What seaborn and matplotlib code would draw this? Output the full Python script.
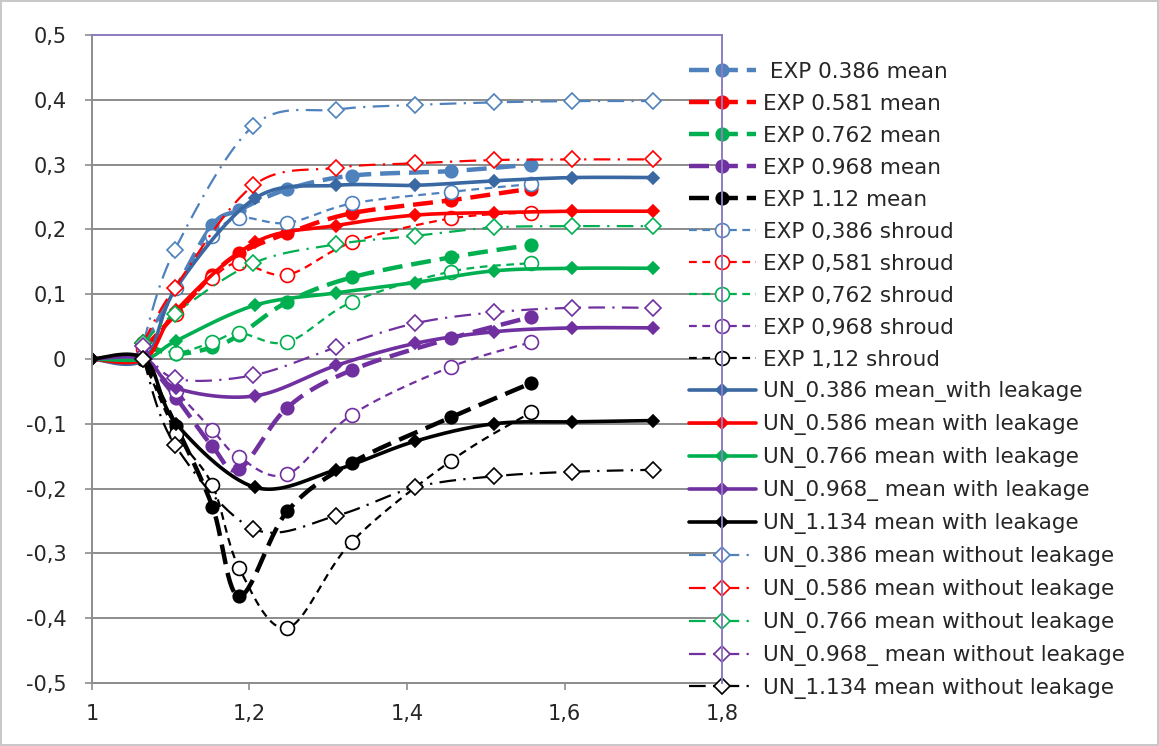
import numpy as np
import matplotlib
matplotlib.use("Agg")
import matplotlib.pyplot as plt
from matplotlib.lines import Line2D
import seaborn as sns

# ---- data -------------------------------------------------------------
x_exp = [1.065, 1.107, 1.153, 1.187, 1.248, 1.33, 1.456, 1.558]
x_un_with = [1.0, 1.067, 1.107, 1.207, 1.31, 1.41, 1.51, 1.61, 1.713]
x_un_without = [1.065, 1.105, 1.205, 1.31, 1.41, 1.51, 1.61, 1.713]

exp_0386_mean = [0.02, 0.11, 0.207, 0.23, 0.262, 0.283, 0.29, 0.30]
exp_0581_mean = [0.015, 0.07, 0.13, 0.163, 0.194, 0.225, 0.245, 0.263]
exp_0762_mean = [0.02, 0.008, 0.018, 0.037, 0.088, 0.126, 0.157, 0.176]
exp_0968_mean = [0.005, -0.06, -0.135, -0.17, -0.075, -0.017, 0.032, 0.065]
exp_112_mean = [0.0, -0.104, -0.228, -0.366, -0.235, -0.16, -0.09, -0.037]

exp_0386_shroud = [0.02, 0.11, 0.19, 0.218, 0.21, 0.24, 0.258, 0.27]
exp_0581_shroud = [0.015, 0.07, 0.125, 0.148, 0.13, 0.18, 0.217, 0.226]
exp_0762_shroud = [0.025, 0.01, 0.026, 0.04, 0.026, 0.088, 0.135, 0.148]
exp_0968_shroud = [0.005, -0.05, -0.11, -0.152, -0.178, -0.086, -0.012, 0.026]
exp_112_shroud = [0.0, -0.115, -0.195, -0.323, -0.415, -0.282, -0.157, -0.082]

un_0386_with = [0.0, 0.0, 0.11, 0.248, 0.268, 0.268, 0.275, 0.28, 0.28]
un_0586_with = [0.0, 0.0, 0.075, 0.18, 0.206, 0.222, 0.226, 0.228, 0.228]
un_0766_with = [0.0, 0.0, 0.028, 0.083, 0.102, 0.118, 0.136, 0.14, 0.14]
un_0968_with = [0.0, 0.0, -0.045, -0.057, -0.01, 0.024, 0.042, 0.048, 0.048]
un_1134_with = [0.0, 0.0, -0.1, -0.198, -0.171, -0.127, -0.1, -0.097, -0.095]

un_0386_without = [0.025, 0.168, 0.36, 0.385, 0.392, 0.396, 0.398, 0.398]
un_0586_without = [0.025, 0.11, 0.268, 0.295, 0.302, 0.307, 0.308, 0.308]
un_0766_without = [0.025, 0.07, 0.148, 0.177, 0.19, 0.203, 0.205, 0.205]
un_0968_without = [0.02, -0.03, -0.025, 0.018, 0.055, 0.072, 0.079, 0.079]
un_1134_without = [0.0, -0.132, -0.262, -0.242, -0.198, -0.181, -0.174, -0.171]

labels = [
    " EXP 0.386 mean", "EXP 0.581 mean", "EXP 0.762 mean", "EXP 0.968 mean", "EXP 1.12 mean",
    "EXP 0,386 shroud", "EXP 0,581 shroud", "EXP 0,762 shroud", "EXP 0,968 shroud", "EXP 1,12 shroud",
    "UN_0.386 mean_with leakage", "UN_0.586 mean with leakage", "UN_0.766 mean with leakage",
    "UN_0.968_ mean with leakage", "UN_1.134 mean with leakage",
    "UN_0.386 mean without leakage", "UN_0.586 mean without leakage", "UN_0.766 mean without leakage",
    "UN_0.968_ mean without leakage", "UN_1.134 mean without leakage",
]

x_ticks = [1.0, 1.2, 1.4, 1.6, 1.8]
x_tick_labels = ["1", "1,2", "1,4", "1,6", "1,8"]
y_ticks = [-0.5, -0.4, -0.3, -0.2, -0.1, 0.0, 0.1, 0.2, 0.3, 0.4, 0.5]
y_tick_labels = ["-0,5", "-0,4", "-0,3", "-0,2", "-0,1", "0", "0,1", "0,2", "0,3", "0,4", "0,5"]

# ---- styles -------------------------------------------------------------
BLUE_L = "#4f81bd"
BLUE_D = "#3a68a3"
RED = "#ff0000"
GREEN = "#00b050"
PURPLE = "#7030a0"
BLACK = "#000000"

exp_colors = [BLUE_L, RED, GREEN, PURPLE, BLACK]
un_with_colors = [BLUE_D, RED, GREEN, PURPLE, BLACK]
un_without_colors = [BLUE_L, RED, GREEN, PURPLE, BLACK]

STYLE_EXP_MEAN = dict(lw=3.2, ls=(0, (4.5, 2.0)), marker="o", ms=9, open=False)
STYLE_EXP_SHROUD = dict(lw=1.6, ls=(0, (3.5, 2.5)), marker="o", ms=10, open=True)
STYLE_UN_WITH = dict(lw=2.6, ls="-", marker="D", ms=6, open=False)
STYLE_UN_WITHOUT = dict(lw=1.6, ls=(0, (7.5, 3.3, 1.0, 3.3)), marker="D", ms=8.5, open=True)

series = []
for ys, c in zip([exp_0386_mean, exp_0581_mean, exp_0762_mean, exp_0968_mean, exp_112_mean], exp_colors):
    series.append((x_exp, ys, c, STYLE_EXP_MEAN))
for ys, c in zip([exp_0386_shroud, exp_0581_shroud, exp_0762_shroud, exp_0968_shroud, exp_112_shroud], exp_colors):
    series.append((x_exp, ys, c, STYLE_EXP_SHROUD))
for ys, c in zip([un_0386_with, un_0586_with, un_0766_with, un_0968_with, un_1134_with], un_with_colors):
    series.append((x_un_with, ys, c, STYLE_UN_WITH))
for ys, c in zip([un_0386_without, un_0586_without, un_0766_without, un_0968_without, un_1134_without],
                 un_without_colors):
    series.append((x_un_without, ys, c, STYLE_UN_WITHOUT))


def smooth_curve(xs, ys, n=30):
    """Cubic Bezier smoothing through every point (spreadsheet-style smoothed line)."""
    P = np.column_stack([xs, ys]).astype(float)
    out = []
    last = len(P) - 2
    for i in range(len(P) - 1):
        p0 = P[i - 1] if i > 0 else P[i]
        p1, p2 = P[i], P[i + 1]
        p3 = P[i + 2] if i + 2 < len(P) else P[i + 1]
        c1 = p1 + (p2 - p0) / 6.0
        c2 = p2 - (p3 - p1) / 6.0
        t = np.linspace(0, 1, n, endpoint=(i == last))[:, None]
        out.append((1 - t) ** 3 * p1 + 3 * (1 - t) ** 2 * t * c1 + 3 * (1 - t) * t ** 2 * c2 + t ** 3 * p2)
    return np.vstack(out)


# ---- figure -------------------------------------------------------------
sns.set_theme(style="white")
plt.rcParams["font.family"] = ["DejaVu Sans"]

W, H = 1159, 746
fig = plt.figure(figsize=(W / 100, H / 100), dpi=100)
fig.patch.set_facecolor("white")
fig.patch.set_edgecolor("#c8c8c8")
fig.patch.set_linewidth(1.5)

ax_l, ax_r, ax_t, ax_b = 92, 722, 35, 683
ax = fig.add_axes([ax_l / W, 1 - ax_b / H, (ax_r - ax_l) / W, (ax_b - ax_t) / H])

for xs, ys, c, st in series:
    curve = smooth_curve(xs, ys)
    sns.lineplot(x=curve[:, 0], y=curve[:, 1], ax=ax, color=c, linewidth=st["lw"],
                 sort=False, estimator=None, legend=False)
    ax.lines[-1].set_linestyle(st["ls"])
    ax.lines[-1].set_solid_capstyle("butt")
    ax.lines[-1].set_dash_capstyle("butt")
    ax.plot(xs, ys, linestyle="none", marker=st["marker"], ms=st["ms"],
            mfc=("white" if st["open"] else c), mec=c, mew=1.2)

ax.set_xlim(1.0, 1.8)
ax.set_ylim(-0.5, 0.5)
ax.set_xticks(x_ticks)
ax.set_xticklabels(x_tick_labels)
ax.set_yticks(y_ticks)
ax.set_yticklabels(y_tick_labels)

ax.grid(axis="y", color="#8c8c8c", linewidth=1.4)
ax.grid(axis="x", visible=False)
ax.set_axisbelow(True)

for side in ["left", "bottom"]:
    ax.spines[side].set_color("#8c8c8c")
    ax.spines[side].set_linewidth(1.4)
for side in ["top", "right"]:
    ax.spines[side].set_color("#8e7cc3")
    ax.spines[side].set_linewidth(1.4)
ax.spines["right"].set_zorder(10)

ax.tick_params(axis="both", which="major", direction="out", length=5, width=1.2,
               color="#8c8c8c", labelsize=15, labelcolor="#262626")
ax.tick_params(axis="y", pad=13.5, left=True)
ax.tick_params(axis="x", pad=10, bottom=True)
ax.set_xlabel("")
ax.set_ylabel("")

handles = []
for xs, ys, c, st in series:
    handles.append(Line2D([], [], color=c, lw=st["lw"], linestyle=st["ls"], marker=st["marker"],
                          ms=st["ms"], mfc=("white" if st["open"] else c), mec=c, mew=1.2))

leg = ax.legend(handles, labels, loc="upper left", bbox_to_anchor=(689 / W, 1 - 62 / H),
                bbox_transform=fig.transFigure, frameon=False, fontsize=15.5,
                handlelength=3.1, handletextpad=0.34, labelspacing=0.555,
                borderpad=0, borderaxespad=0)
leg.set_zorder(5)
for t in leg.get_texts():
    t.set_color("#262626")

fig.savefig("out.png", dpi=100, facecolor=fig.get_facecolor(), edgecolor=fig.get_edgecolor())
